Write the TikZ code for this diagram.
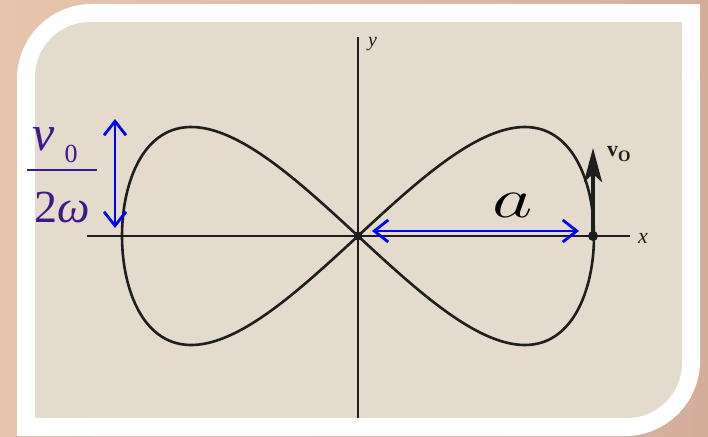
\documentclass[tikz,border=0pt]{standalone}
\usepackage{fix-cm}
\usepackage{fontspec}
\setmainfont{Liberation Serif}
\usetikzlibrary{arrows.meta}
\definecolor{bgL}{HTML}{E8C5AE}
\definecolor{bgR}{HTML}{D5AE9B}
\definecolor{paper}{HTML}{E5DBCC}
\definecolor{ink}{HTML}{1E1E1E}
\definecolor{fracc}{HTML}{3A1A8C}
\begin{document}
\begin{tikzpicture}[x=1pt,y=-1pt,
  bluearr/.style={draw=blue, line width=2.8pt,
    {Straight Barb[length=14pt,width=22pt,line width=2.8pt]}-{Straight Barb[length=14pt,width=22pt,line width=2.8pt]}},
  axisline/.style={draw=ink, line width=1.6pt},
  curveline/.style={draw=ink, line width=2.6pt},
  fractext/.style={text=fracc, inner sep=0pt, anchor=base},
  axlabel/.style={inner sep=0pt, anchor=base west, font=\fontsize{22}{22}\selectfont\itshape, text=ink}]
\useasboundingbox (0,0) rectangle (708,436);
% background
\shade[left color=bgL, right color=bgR] (0,0) rectangle (708,436);
% white frame
\fill[white, rounded corners=75pt] (17,4) rectangle (700,436);
\fill[white] (600,4) rectangle (700,100);
\fill[white] (17,336) rectangle (117,436);
% scanned paper
\fill[paper, rounded corners=55pt] (35,22) rectangle (682,418);
\fill[paper] (600,22) rectangle (682,100);
\fill[paper] (35,340) rectangle (117,418);
% axes
\coordinate (xl) at (87,236);
\coordinate (xr) at (630,236);
\coordinate (yt) at (358,37);
\coordinate (yb) at (358,418);
\coordinate (O) at (358,236);
\coordinate (P) at (593,236);
\draw[axisline] (xl) -- (xr);
\draw[axisline] (yt) -- (yb);
\node[axlabel] (xlab) at (638,243) {x};
\node[axlabel, font=\fontsize{20}{20}\selectfont\itshape] (ylab) at (368,47) {y};
% curve
\draw[curveline] plot[domain=0:360, samples=240, smooth, variable=\t]
  ({358+236*cos(\t)},{236-109*sin(2*\t)});
\fill[ink] (O) circle (4.5pt);
\fill[ink] (P) circle (5pt);
% v0 arrow
\coordinate (vtip) at (593,148);
\draw[draw=ink, line width=4pt, -{Stealth[length=34pt,width=18pt,inset=8pt]}] (P) -- (vtip);
\node[inner sep=0pt, anchor=base west, text=ink] (vlab) at (607,156)
  {\fontsize{22}{22}\selectfont\bfseries v\raisebox{-5pt}{\fontsize{16}{16}\selectfont O}};
% blue arrows
\coordinate (bt) at (115,119);
\coordinate (bb) at (115,228);
\coordinate (hl) at (372,231);
\coordinate (hr) at (579,231);
\draw[bluearr] (bt) -- (bb);
\draw[bluearr] (hl) -- (hr);
% label a
\node[inner sep=0pt, anchor=base, text=black] (alabel) at (513,217)
  {\scalebox{1.4}[1]{\fontsize{56}{56}\selectfont$a$}};
% fraction v0 / 2omega
\node[fractext, font=\fontsize{50}{50}\selectfont\itshape] (fv) at (44,150) {v};
\node[fractext, font=\fontsize{26}{26}\selectfont] (f0) at (71,162) {0};
\coordinate (fl) at (27,170);
\coordinate (fr) at (97,170);
\draw[draw=fracc, line width=1.6pt] (fl) -- (fr);
\node[fractext, font=\fontsize{46}{46}\selectfont] (fden) at (62,222) {2\textit{ω}};
\end{tikzpicture}
\end{document}
